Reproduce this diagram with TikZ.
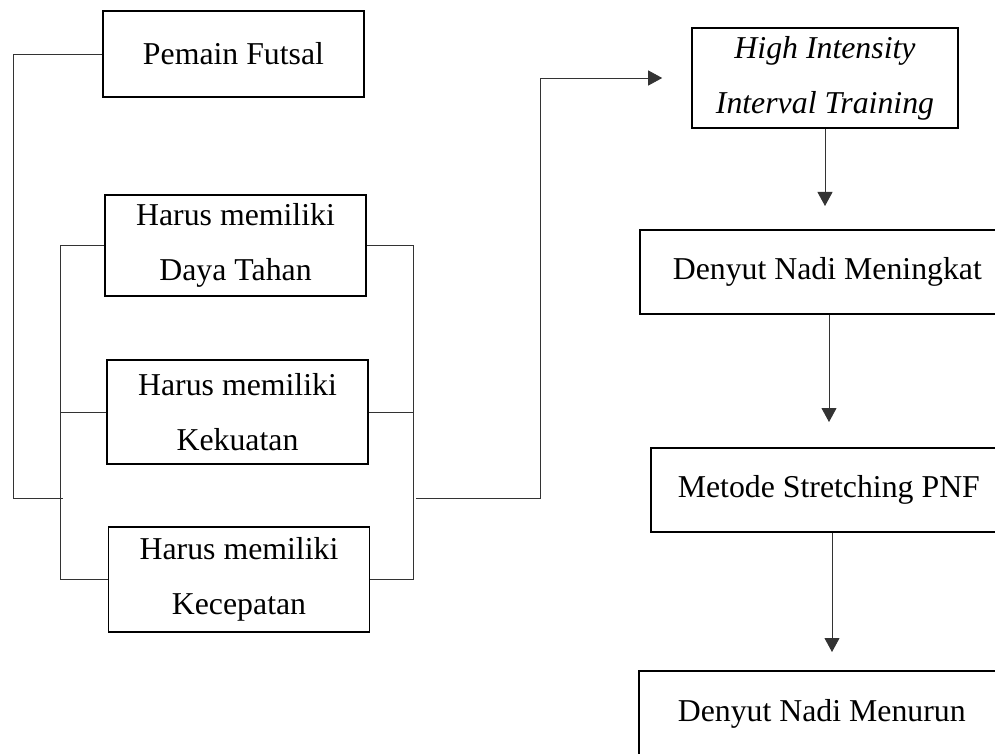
\documentclass[tikz,border=0pt]{standalone}
\usepackage{fontspec}
\setmainfont{Liberation Serif}
\usetikzlibrary{positioning,arrows.meta,calc}

\begin{document}
\begin{tikzpicture}[x=1pt,y=-1pt,>={Triangle[length=14pt,width=15pt]},
  every node/.style={font=\fontsize{31.8}{55}\selectfont},
  box/.style={draw,line width=1.6pt,align=center,inner sep=0pt,minimum width=261pt,minimum height=#1},
  cutbox/.style={draw,line width=1.6pt,anchor=north west,align=flush left,text width=400pt,inner ysep=0pt,minimum height=84pt,inner xsep=#1},
  conn/.style={line width=0.9pt,black!80},
  arr/.style={conn,->}]
\useasboundingbox (0,0) rectangle (995,754);
\clip (0,0) rectangle (995,754);
% left column
\node[box=86pt] (pemain) at (233.5,54) {Pemain Futsal};
\node[box=101pt] (daya) at (235.5,245.5) {Harus memiliki\\Daya Tahan};
\node[box=104pt] (kekuatan) at (237.5,412) {Harus memiliki\\Kekuatan};
\node[box=105pt] (kecepatan) at (239,579.5) {Harus memiliki\\Kecepatan};
% right column
\node[box=100pt,minimum width=266pt,font=\fontsize{31.8}{55}\selectfont\itshape] (hiit) at (825,78) {High Intensity\\Interval Training};
\node[cutbox=33pt] (dnm) at (639,229) {Denyut Nadi Meningkat};
\node[cutbox=27pt] (metode) at (650,447) {Metode Stretching PNF};
\node[cutbox=39pt,minimum height=86pt] (menurun) at (638,670) {Denyut Nadi Menurun};
% brackets
\coordinate (outl) at (13,498);
\coordinate (jl) at (63,498);
\draw[conn] (pemain.west) -| (outl) -- (jl);
\coordinate (lb) at (60,0);
\draw[conn] (daya.west) -- (daya.west -| lb) -- (kecepatan.west -| lb) -- (kecepatan.west);
\draw[conn] (kekuatan.west) -- (kekuatan.west -| lb);
\coordinate (rb) at (413,0);
\draw[conn] (daya.east) -- (daya.east -| rb) -- (kecepatan.east -| rb) -- (kecepatan.east);
\draw[conn] (kekuatan.east) -- (kekuatan.east -| rb);
% arrows
\coordinate (rout) at (416,498);
\draw[arr,shorten >=29pt] (rout) -- ++(124,0) |- (hiit.west);
\draw[arr,shorten >=23pt] (hiit.south) -- (hiit.south |- dnm.north);
\coordinate (d1) at ([xshift=190pt]dnm.south west);
\draw[arr,shorten >=25pt] (d1) -- (d1 |- metode.north);
\coordinate (m1) at ([xshift=182pt]metode.south west);
\draw[arr,shorten >=18pt] (m1) -- (m1 |- menurun.north);
\end{tikzpicture}
\end{document}
